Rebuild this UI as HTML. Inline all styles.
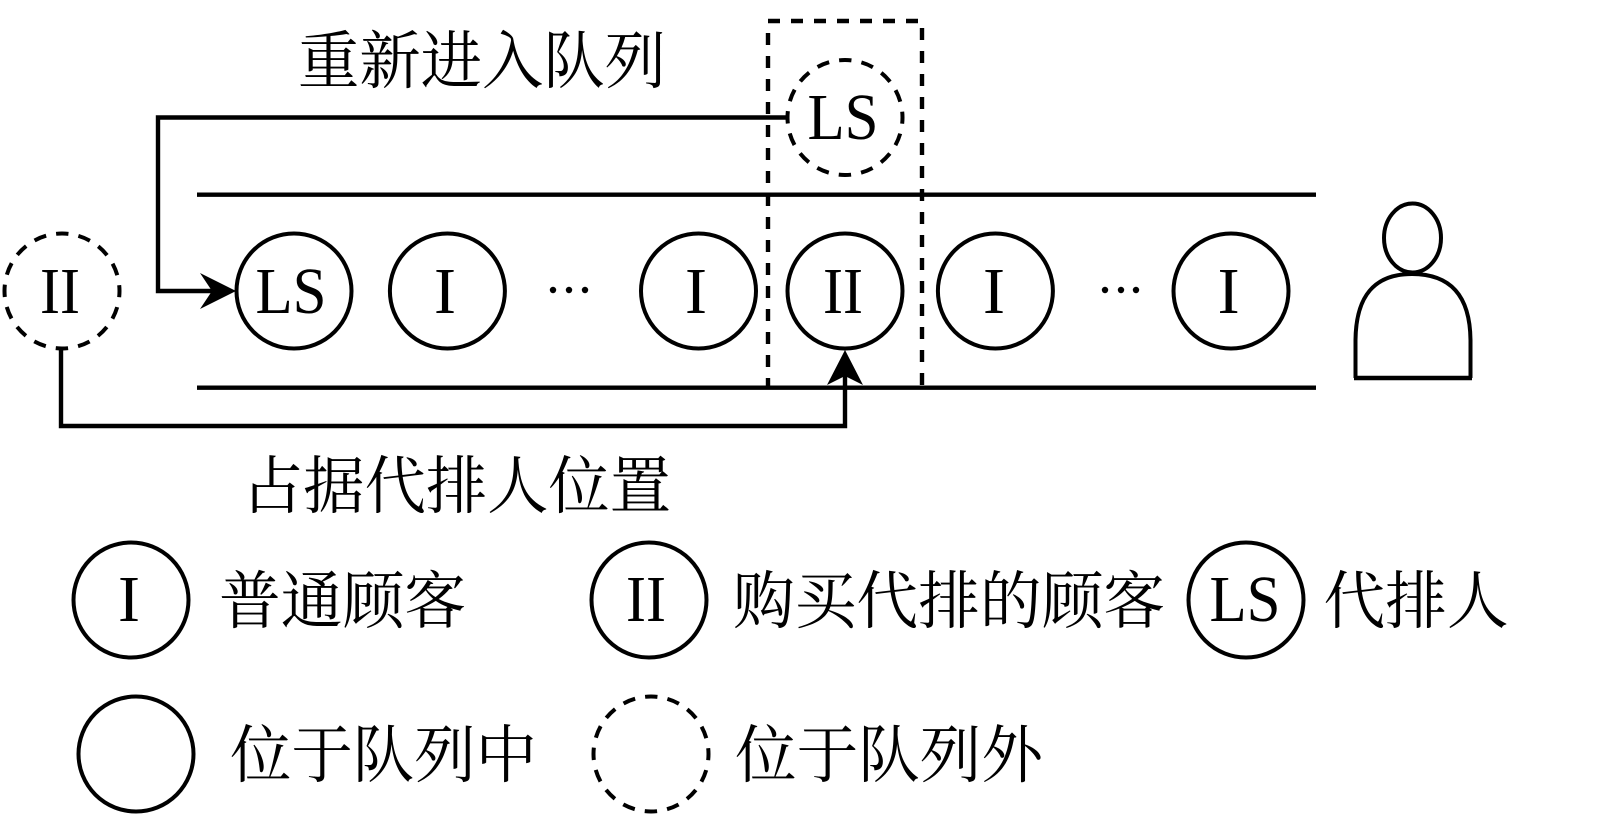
<!DOCTYPE html>
<html><head><meta charset="utf-8"><style>
html,body{margin:0;padding:0;background:#fff}
svg{display:block}
.c{font-family:"Liberation Serif","Noto Serif CJK SC",serif;font-weight:400;font-size:63px;fill:#000}
.l{font-family:"Liberation Serif",serif;font-size:66px;fill:#000;text-anchor:middle}
.s{fill:none;stroke:#000;stroke-width:4}
.d{fill:none;stroke:#000;stroke-width:4;stroke-dasharray:12.5 10.08;stroke-dashoffset:6.25}
.n{fill:none;stroke:#000;stroke-width:4.4}
.b{fill:none;stroke:#000;stroke-width:4.4;stroke-dasharray:12 11}
</style></head><body>
<svg width="1600" height="836" viewBox="0 0 1600 836" xmlns="http://www.w3.org/2000/svg">
<rect width="1600" height="836" fill="#fff"/>
<path class="b" d="M768 21H920"/>
<path class="b" d="M922 28V387"/>
<path class="b" d="M768 33V387"/>
<path d="M768 387H922" stroke="#000" stroke-width="2" fill="none"/>
<path class="n" d="M197 194.7H1316M197 387.7H1316"/>
<path class="n" d="M786 117.5H158V291H215"/>
<path d="M236 291L200 273L212 291L200 309Z" fill="#000"/>
<path class="n" d="M61 350V426H845V370"/>
<path d="M845 350L827 385L845 376L863 385Z" fill="#000"/>
<circle class="d" cx="62" cy="291" r="57.5"/>
<circle class="d" cx="845" cy="117.5" r="57.5"/>
<circle class="s" cx="294" cy="291" r="57.5"/>
<circle class="s" cx="447.4" cy="291" r="57.5"/>
<circle class="s" cx="698.5" cy="291" r="57.5"/>
<circle class="s" cx="845" cy="291" r="57.5"/>
<circle class="s" cx="995.4" cy="291" r="57.5"/>
<circle class="s" cx="1231" cy="291" r="57.5"/>
<g fill="#000"><circle cx="553" cy="290" r="3.2"/><circle cx="569" cy="290" r="3.2"/><circle cx="585" cy="290" r="3.2"/><circle cx="1105" cy="290" r="3.2"/><circle cx="1121" cy="290" r="3.2"/><circle cx="1136" cy="290" r="3.2"/></g>
<ellipse class="s" cx="1412.5" cy="238" rx="28.5" ry="34.5"/>
<path class="s" d="M1355.5 378V340C1356 295 1375 274 1412 274C1450 274 1470 295 1470.5 340V378"/>
<path class="n" d="M1354 378H1472"/>
<text class="l" x="60" y="313" textLength="40" lengthAdjust="spacingAndGlyphs">II</text>
<text class="l" x="291" y="313" textLength="71" lengthAdjust="spacingAndGlyphs">LS</text>
<text class="l" x="445" y="313">I</text>
<text class="l" x="696" y="313">I</text>
<text class="l" x="843" y="313" textLength="40" lengthAdjust="spacingAndGlyphs">II</text>
<text class="l" x="994" y="313">I</text>
<text class="l" x="1228.6" y="313">I</text>
<text class="l" x="843" y="139" textLength="71" lengthAdjust="spacingAndGlyphs">LS</text>
<text class="c" x="298" y="83" textLength="368" lengthAdjust="spacingAndGlyphs">重新进入队列</text>
<text class="c" x="242" y="508" textLength="429" lengthAdjust="spacingAndGlyphs">占据代排人位置</text>
<circle class="s" cx="131" cy="600" r="57.5"/>
<circle class="s" cx="649" cy="600" r="57.5"/>
<circle class="s" cx="1246" cy="600" r="57.5"/>
<circle class="s" cx="136" cy="754" r="57.5"/>
<circle class="d" cx="651" cy="754" r="57.5"/>
<text class="l" x="129" y="621">I</text>
<text class="l" x="646" y="621" textLength="40" lengthAdjust="spacingAndGlyphs">II</text>
<text class="l" x="1245" y="621" textLength="71" lengthAdjust="spacingAndGlyphs">LS</text>
<text class="c" x="219" y="623" textLength="247" lengthAdjust="spacingAndGlyphs">普通顾客</text>
<text class="c" x="733" y="623" textLength="432" lengthAdjust="spacingAndGlyphs">购买代排的顾客</text>
<text class="c" x="1323.5" y="623" textLength="185" lengthAdjust="spacingAndGlyphs">代排人</text>
<text class="c" x="230" y="777" textLength="307" lengthAdjust="spacingAndGlyphs">位于队列中</text>
<text class="c" x="735" y="777" textLength="308" lengthAdjust="spacingAndGlyphs">位于队列外</text>
</svg>
</body></html>
